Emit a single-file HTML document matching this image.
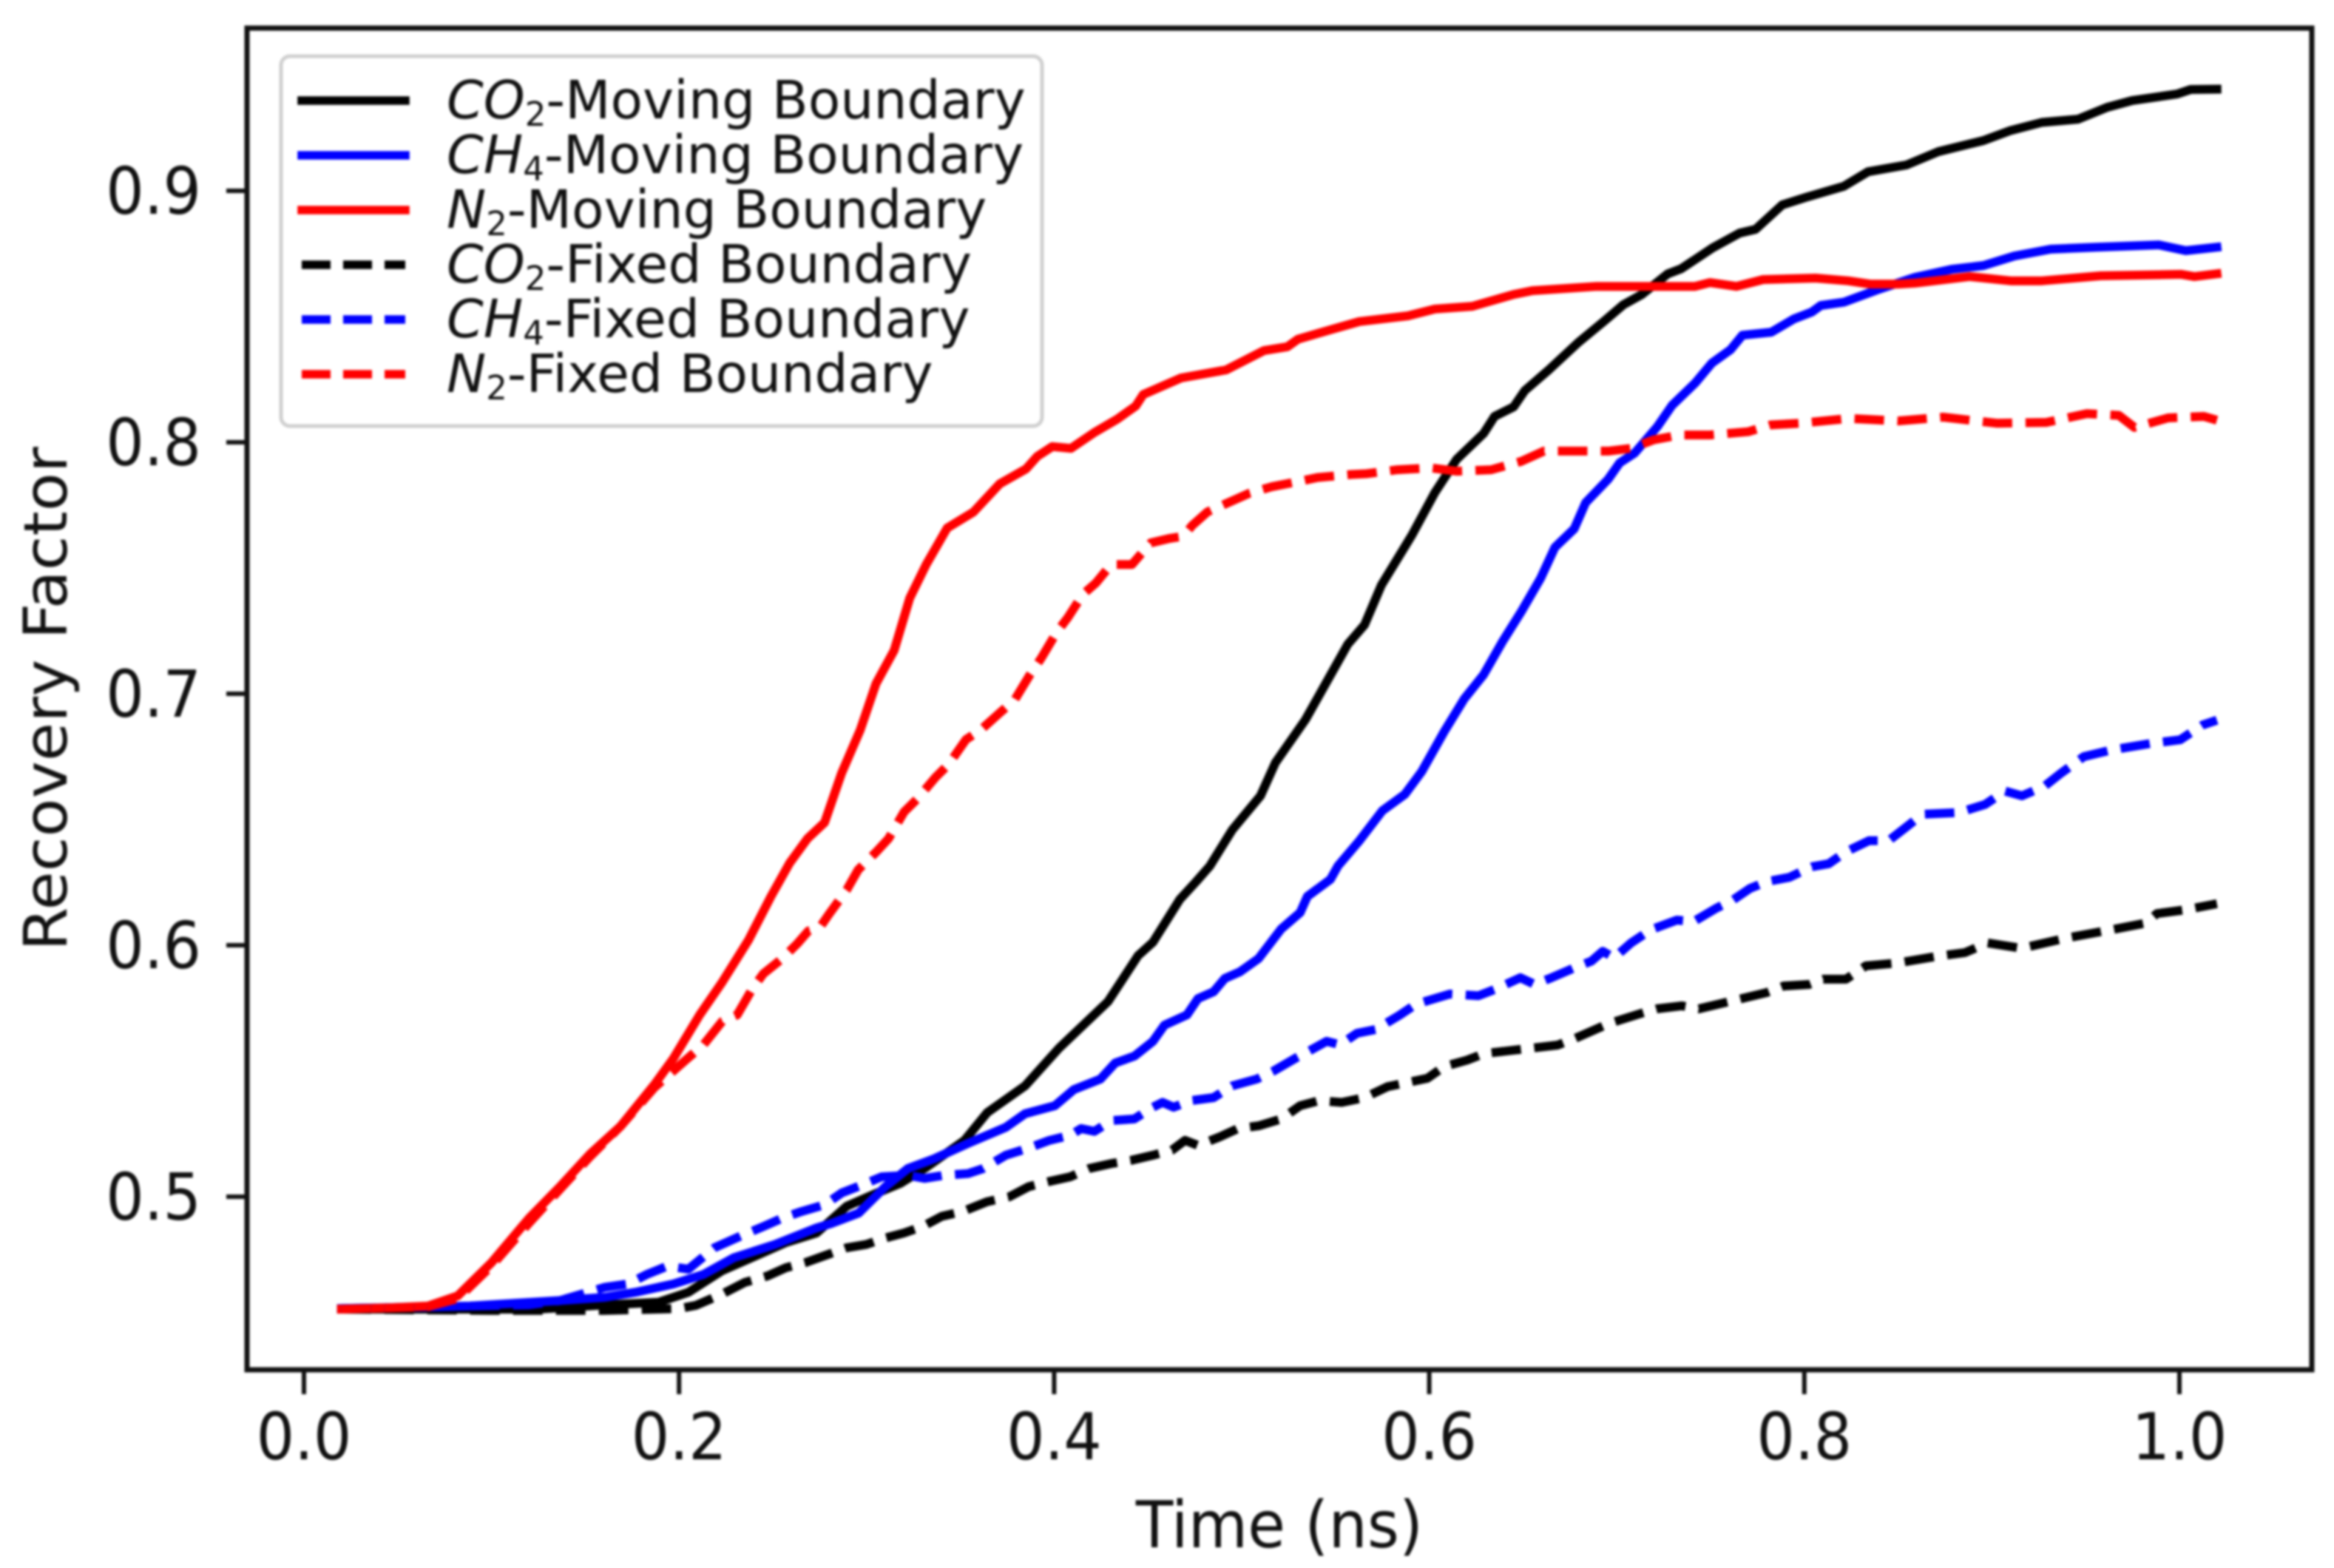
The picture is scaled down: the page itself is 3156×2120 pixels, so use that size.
<!DOCTYPE html>
<html lang="en">
<head>
<meta charset="utf-8">
<title>Recovery Factor vs Time</title>
<style>
html,body{margin:0;padding:0;background:#fff;width:3156px;height:2120px;overflow:hidden}
svg{display:block;filter:blur(1.5px)}
text{font-family:"DejaVu Sans","Liberation Sans",sans-serif;fill:#111}
</style>
</head>
<body>
<svg id="chart" xmlns="http://www.w3.org/2000/svg" width="3156" height="2120" viewBox="0 0 3156 2120"></svg>
<script>
const xTicks = [0, 0.2, 0.4, 0.6, 0.8, 1.0];
const xTickLabels = ["0.0", "0.2", "0.4", "0.6", "0.8", "1.0"];
const yTicks = [0.5, 0.6, 0.7, 0.8, 0.9];
const yTickLabels = ["0.5", "0.6", "0.7", "0.8", "0.9"];

const timeCO2Moving = [.02,.06,.1244,.1566,.1889,.205,.223,.241,.257,.2733,
.2894,.3056,.318,.332,.3522,.3644,.3845,.4026,.4287,.4448,
.4527,.467,.4757,.483,.495,.51,.518,.534,.5477,.5566,
.5655,.5745,.5907,.603,.6146,.629,.6348,.645,.651,.6633,
.6795,.6933,.7035,.7134,.7272,.7343,.7513,.7655,.774,.7882,
.8016,.821,.834,.8545,.8715,.8955,.91,.9266,.946,.9615,
.9748,.9988,1.006,1.02];
const valuesCO2Moving = [.4553,.4553,.4553,.4568,.458,.462,.4706,.4765,.4818,.4856,
.4962,.5015,.5053,.5118,.5224,.5335,.5441,.5591,.5776,.5959,
.6012,.6182,.6253,.6315,.6459,.6594,.6726,.6897,.7079,.7197,
.7274,.7432,.763,.78,.7932,.8035,.8103,.8141,.8206,.8285,
.8397,.8482,.8547,.8588,.867,.869,.8774,.8832,.8847,.8944,
.8976,.9018,.9076,.9103,.9156,.92,.924,.9272,.9285,.9332,
.9359,.9385,.9403,.9404];

const timeCH4Moving = [.02,.0884,.1365,.1605,.1767,.197,.213,.2291,.2512,.2733,
.2817,.2958,.31,.322,.336,.3541,.3742,.3845,.4004,.4105,
.4247,.4326,.4428,.4527,.4588,.4708,.4767,.485,.491,.499,
.509,.5211,.5312,.535,.5473,.5513,.5627,.575,.587,.596,
.608,.6187,.629,.6392,.649,.6594,.667,.6773,.6834,.6954,
.7015,.7095,.7216,.7295,.7417,.7507,.7606,.767,.7824,.7945,
.804,.8088,.821,.84,.859,.8785,.8955,.912,.9314,.9555,
.989,1.0034,1.02];
const valuesCH4Moving = [.4555,.4565,.4587,.46,.462,.4653,.4691,.4757,.481,.4876,
.4895,.4935,.504,.5112,.5151,.5212,.5276,.533,.5362,.5426,
.5468,.5532,.5559,.5618,.5682,.5723,.5788,.5815,.5868,.5894,
.5947,.6065,.613,.6194,.6262,.6315,.6415,.6535,.66,.6691,
.685,.698,.7076,.7209,.7326,.7459,.7582,.7656,.776,.7853,
.7918,.7957,.8062,.8147,.8235,.8315,.8368,.8426,.8438,.8491,
.8518,.8544,.8557,.8609,.8656,.8688,.8703,.8741,.8768,.8776,
.8785,.8762,.8776];

const timeN2Moving = [.02,.045,.066,.082,.1,.12,.1365,.1526,.1688,.187,
.197,.211,.223,.237,.249,.259,.2685,.2776,.2867,.2966,
.305,.3147,.323,.3318,.343,.357,.371,.385,.391,.399,
.409,.4215,.4334,.4435,.4475,.4677,.4917,.512,.5244,.53,
.5485,.5627,.5887,.603,.623,.645,.655,.6893,.7197,.7417,
.7497,.7638,.778,.806,.8234,.835,.85,.859,.888,.91,
.9266,.958,1.001,1.008,1.02];
const valuesN2Moving = [.4553,.4558,.4565,.4606,.4738,.4914,.504,.517,.528,.5447,
.555,.5723,.5853,.602,.6194,.6327,.6424,.6488,.6685,.6856,
.704,.7173,.738,.7514,.7659,.7723,.7835,.7894,.7944,.7983,
.7976,.8039,.8091,.8144,.819,.8256,.8288,.8365,.838,.841,
.845,.848,.8503,.853,.8541,.8588,.8603,.862,.862,.862,
.8635,.862,.8647,.8653,.8642,.8629,.8629,.8633,.8659,.8642,
.8642,.8662,.8668,.8659,.867];

const timeCO2Fixed = [.02,.1,.16,.2,.209,.223,.235,.2472,.2571,.2673,
.2793,.2894,.2998,.31,.32,.33,.3401,.3511,.3642,.3762,
.3864,.3965,.4085,.4186,.4306,.4407,.4527,.4628,.4698,.4767,
.488,.498,.5091,.5211,.5312,.5413,.5533,.5655,.5779,.599,
.608,.6201,.6292,.6443,.6684,.6773,.6955,.7121,.7212,.7346,
.7437,.7589,.78,.789,.8026,.8101,.8222,.8328,.8494,.8706,
.8857,.8977,.9158,.94,.964,.982,.988,1.003,1.02];
const valuesCO2Fixed = [.4553,.4548,.4548,.4555,.4568,.4613,.4659,.4685,.4718,.4738,
.477,.4797,.481,.4836,.4856,.4882,.4922,.4941,.498,.5,
.504,.5059,.5079,.5112,.5132,.5144,.5165,.5185,.5224,.5204,
.5237,.5271,.5282,.5309,.5362,.5382,.5375,.5394,.5438,.5471,
.5518,.5543,.5569,.5582,.5603,.5628,.5688,.5727,.5747,.5759,
.5747,.5774,.5812,.5838,.5844,.5865,.5865,.5918,.5929,.5956,
.5971,.6009,.5988,.6029,.6062,.6088,.6126,.6141,.6165];

const timeCH4Fixed = [.02,.07,.12,.1365,.1605,.1727,.1828,.1938,.205,.2189,
.233,.2451,.2551,.2652,.2776,.2867,.2977,.308,.322,.331,
.3411,.3541,.3622,.3742,.3853,.3975,.4085,.4144,.4215,.4306,
.4427,.4527,.4578,.4637,.4728,.485,.4949,.5081,.517,.5292,
.5373,.5453,.5524,.5615,.5714,.584,.593,.611,.6262,.6352,
.6486,.6562,.6652,.6773,.6865,.6925,.6986,.7076,.7183,.732,
.741,.753,.762,.771,.78,.792,.804,.813,.822,.8345,
.845,.854,.863,.8826,.8964,.907,.916,.928,.937,.949,
.9642,.9853,1.0004,1.0124,1.02];
const valuesCH4Fixed = [.4555,.4562,.457,.4587,.464,.4653,.4691,.4724,.4712,.4797,
.4844,.4882,.4915,.4941,.4968,.5015,.5047,.5079,.5085,.5073,
.5085,.5092,.5112,.5165,.5191,.5224,.5244,.5271,.526,.5303,
.5309,.5356,.5375,.5356,.5382,.5394,.5441,.5468,.55,.5553,
.5585,.5618,.5604,.565,.5665,.5721,.5766,.5806,.5799,.5825,
.5871,.5844,.5871,.591,.5937,.5976,.595,.6009,.6062,.61,
.6094,.6147,.618,.6226,.6253,.627,.6312,.6324,.6371,.6416,
.6416,.6468,.6521,.6528,.656,.6613,.6594,.6632,.6685,.675,
.6777,.6803,.6817,.6876,.6895];

const timeN2Fixed = [.02,.066,.082,.1,.12,.1365,.1526,.1688,.187,.205,
.213,.223,.231,.239,.245,.255,.263,.269,.275,.28,
.2894,.2955,.305,.3117,.32,.327,.3368,.3438,.353,.361,
.371,.379,.387,.393,.4013,.4073,.4153,.4223,.4304,.4415,
.4515,.4617,.4688,.4737,.4817,.4937,.504,.5158,.5323,.5404,
.5585,.5665,.583,.601,.6146,.633,.649,.6612,.6795,.6954,
.7075,.7197,.7335,.7497,.77,.782,.798,.8238,.85,.874,
.9026,.929,.9507,.9677,.976,.994,1.013,1.02];
const valuesN2Fixed = [.4553,.4562,.4595,.4725,.4895,.503,.516,.528,.5435,.5553,
.5604,.5697,.5723,.5826,.5887,.5947,.6006,.6057,.607,.6124,
.622,.63,.637,.6424,.653,.6582,.6668,.672,.6818,.6857,
.6924,.6976,.7074,.714,.7244,.7303,.7395,.7441,.7514,.7514,
.76,.7618,.7626,.767,.7723,.7763,.7797,.7823,.7847,.786,
.7872,.7875,.7891,.7898,.7885,.7891,.7924,.7965,.7965,.7965,
.7976,.801,.8029,.8029,.8042,.8069,.8076,.8095,.8085,.81,
.8076,.8079,.8114,.8107,.8059,.8097,.8103,.8088];

const NS = "http://www.w3.org/2000/svg";
const svg = document.getElementById("chart");
const plotLeft = 334, plotRight = 3126, plotTop = 38, plotBottom = 1852;
const xScale = t => 411 + t * 2536;
const yScale = v => 1618 - (v - 0.5) * 3400;

function make(tag, attrs, parent) {
  const el = document.createElementNS(NS, tag);
  for (const k in attrs) el.setAttribute(k, attrs[k]);
  (parent || svg).appendChild(el);
  return el;
}

const seriesList = [
  ["co2-moving-line", timeCO2Moving, valuesCO2Moving, "#000", false],
  ["ch4-moving-line", timeCH4Moving, valuesCH4Moving, "#0000ff", false],
  ["n2-moving-line", timeN2Moving, valuesN2Moving, "#ff0000", false],
  ["co2-fixed-line", timeCO2Fixed, valuesCO2Fixed, "#000", true],
  ["ch4-fixed-line", timeCH4Fixed, valuesCH4Fixed, "#0000ff", true],
  ["n2-fixed-line", timeN2Fixed, valuesN2Fixed, "#ff0000", true]
];

seriesList.forEach(s => {
  const d = s[1].map((t, i) => (i ? "L" : "M") + xScale(t).toFixed(1) + " " + yScale(s[2][i]).toFixed(1)).join("");
  const path = make("path", {d: d, fill: "none", stroke: s[3], "stroke-width": 12, "stroke-linejoin": "round", "stroke-linecap": s[4] ? "butt" : "square"});
  if (s[4]) path.setAttribute("stroke-dasharray", "40 18");
  
  
});

const frame = make("rect", {x: plotLeft, y: plotTop, width: plotRight - plotLeft, height: plotBottom - plotTop, fill: "none", stroke: "#111", "stroke-width": 7});



xTicks.forEach((t, i) => {
  const mark = make("line", {x1: xScale(t), x2: xScale(t), y1: plotBottom, y2: 1885, stroke: "#111", "stroke-width": 6});
  
  
  const label = make("text", {transform: "translate(" + xScale(t) + ",1973) scale(1,1.08)", "font-size": 81, "text-anchor": "middle"});
  label.textContent = xTickLabels[i];
  
  
});

yTicks.forEach((v, i) => {
  const mark = make("line", {x1: 306, x2: plotLeft, y1: yScale(v), y2: yScale(v), stroke: "#111", "stroke-width": 6});
  
  
  const label = make("text", {transform: "translate(272," + (yScale(v) + 31) + ") scale(1,1.08)", "font-size": 81, "text-anchor": "end"});
  label.textContent = yTickLabels[i];
  
  
});

const xTitle = make("text", {transform: "translate(1730,2092) scale(1.02,1.08)", "font-size": 81, "text-anchor": "middle"});
xTitle.textContent = "Time (ns)";



const yTitle = make("text", {transform: "translate(90,945) rotate(-90) scale(1.05,1)", "font-size": 81, "text-anchor": "middle"});
yTitle.textContent = "Recovery Factor";



const legendBox = make("rect", {x: 380, y: 76, width: 1029, height: 500, rx: 12, ry: 12, fill: "#fff", stroke: "#cfcfcf", "stroke-width": 5});



const legendGas = ["CO", "CH", "N", "CO", "CH", "N"];
const legendSub = ["2", "4", "2", "2", "4", "2"];
const legendRest = ["-Moving Boundary", "-Moving Boundary", "-Moving Boundary", "-Fixed Boundary", "-Fixed Boundary", "-Fixed Boundary"];

seriesList.forEach((s, i) => {
  const y = 136 + i * 74;
  const line = make("line", {x1: 408, x2: 548, y1: y, y2: y, stroke: s[3], "stroke-width": 11.5, "stroke-linecap": s[4] ? "butt" : "square"});
  if (s[4]) line.setAttribute("stroke-dasharray", "39 17");
  
  
  const label = make("text", {x: 604, y: y + 24, "font-size": 71.2});
  const gas = make("tspan", {"font-style": "italic"}, label);
  gas.textContent = legendGas[i];
  const sub = make("tspan", {"font-size": 45, dy: 10}, label);
  sub.textContent = legendSub[i];
  const rest = make("tspan", {dy: -10}, label);
  rest.textContent = legendRest[i];
  
  
});
</script>
</body>
</html>
